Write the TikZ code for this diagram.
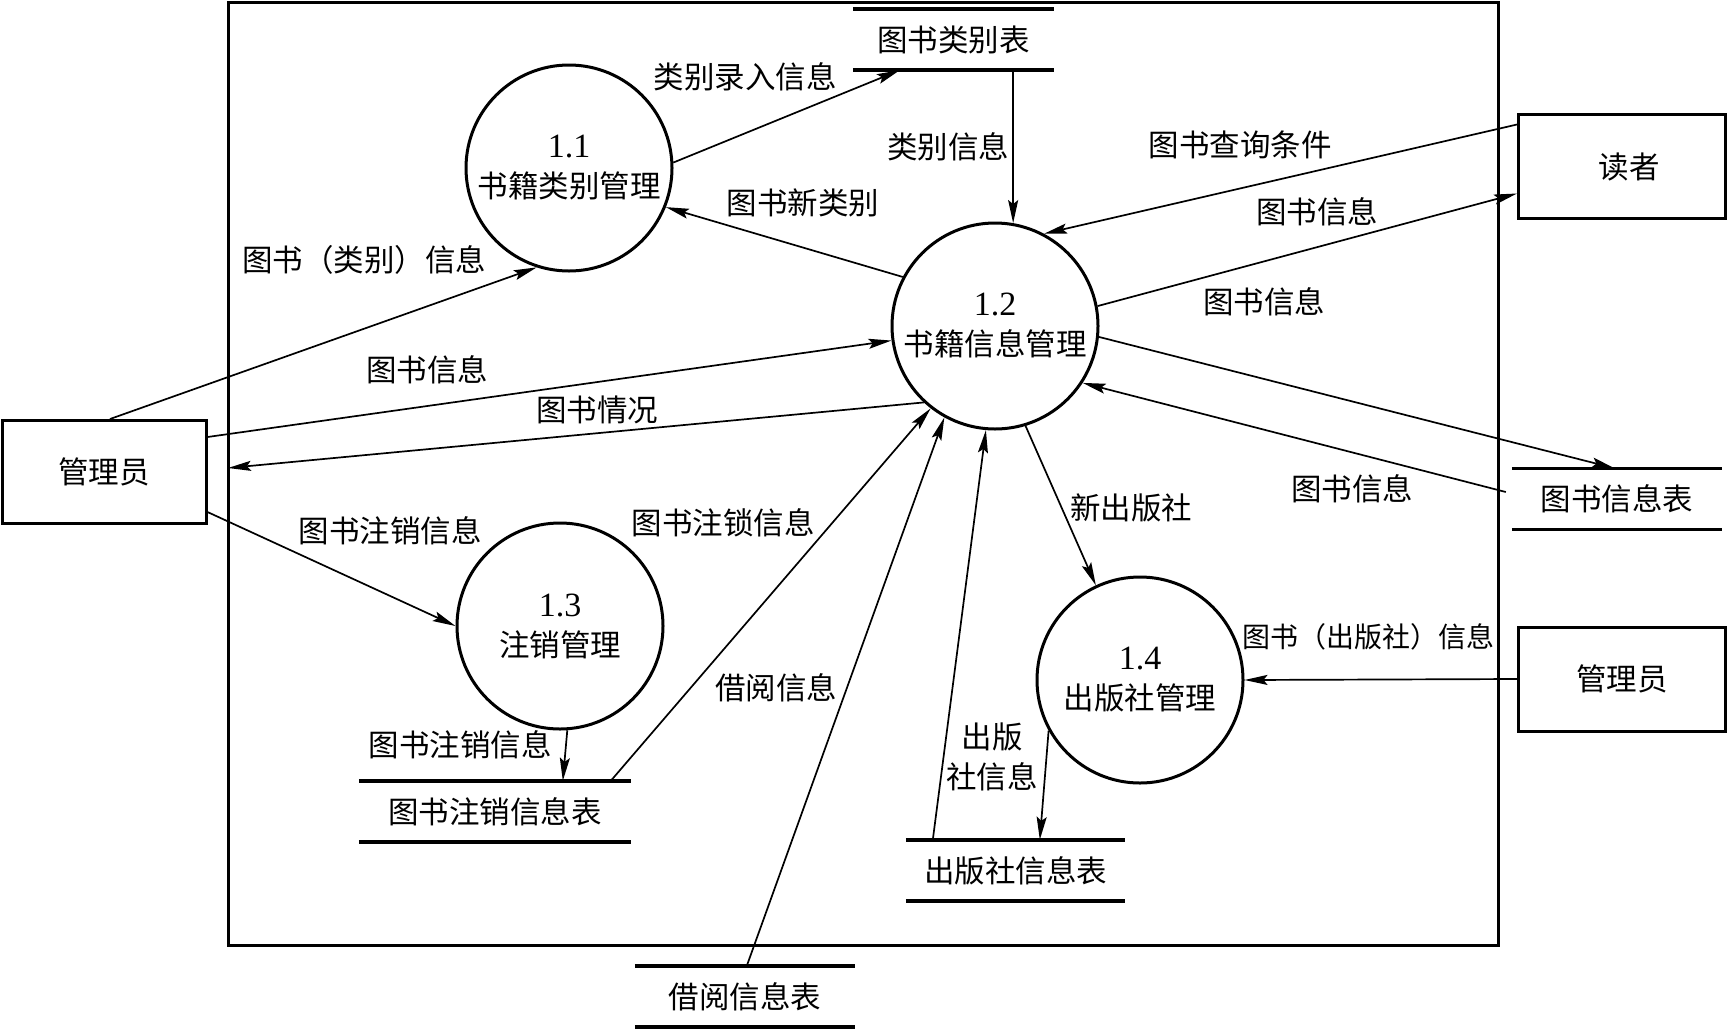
\documentclass[tikz,border=0pt]{standalone}
\usepackage{fontspec}
\setmainfont{Liberation Serif}
\newfontfamily\cjk{Noto Sans CJK SC}
\usetikzlibrary{arrows.meta,calc}
\begin{document}
\begin{tikzpicture}[x=1pt,y=-1pt,
  every node/.style={font=\fontsize{30.5}{40}\selectfont\cjk},
  procnode/.style={circle,draw,line width=3pt,minimum size=206pt,inner sep=0pt,align=center},
  entbox/.style={rectangle,draw,line width=3pt,inner sep=0pt},
  storebox/.style={inner sep=0pt,minimum height=61pt},
  storeline/.style={line width=3.5pt},
  flowarrow/.style={line width=1.7pt,-{Stealth[length=23pt,width=10pt,inset=4pt]}},
  flowlabel/.style={inner sep=0pt}]
\useasboundingbox (0,0) rectangle (1728,1029);
% system boundary
\draw[line width=3pt] (228,2) rectangle (1498,945);
\coordinate (bl) at (228,468);
% processes
\node[procnode] (p1) at (569,168) {{\fontsize{34}{40}\selectfont\rmfamily 1.1}\\书籍类别管理};
\node[procnode] (p2) at (995,326) {{\fontsize{34}{40}\selectfont\rmfamily 1.2}\\书籍信息管理};
\node[procnode] (p3) at (560,626) {{\fontsize{34}{40}\selectfont\rmfamily 1.3}\\注销管理};
\node[procnode] (p4) at (1140,680) {{\fontsize{34}{40}\selectfont\rmfamily 1.4}\\出版社管理};
% external entities
\node[entbox,minimum width=204pt,minimum height=103pt] (mL) at (104,472) {管理员};
\node[entbox,minimum width=207pt,minimum height=104pt,text depth=0pt] (rd) at (1622,166) {\hspace*{14pt}读者};
\node[entbox,minimum width=207pt,minimum height=104pt] (mR) at (1622,679) {管理员};
% data stores
\node[storebox,minimum width=201pt] (s1) at (953.5,39.5) {图书类别表};
\node[storebox,minimum width=272pt] (s2) at (495,811.5) {图书注销信息表};
\node[storebox,minimum width=219pt] (s3) at (1015.5,870.5) {出版社信息表};
\node[storebox,minimum width=210pt] (s4) at (1617,499) {图书信息表};
\node[storebox,minimum width=220pt] (s5) at (745,996.5) {借阅信息表};
\foreach \s in {s1,s2,s3,s4,s5}{
  \draw[storeline] (\s.north west) -- (\s.north east) (\s.south west) -- (\s.south east);
}
% flows
\draw[flowarrow] ([xshift=6pt]mL.north) -- (p1.252);
\draw[flowarrow] (p1.3) -- ([xshift=47pt]s1.south west);
\draw[flowarrow] (p2.80 |- s1.south) -- (p2.80);
\draw[flowarrow] (p2.152) -- (p1.338);
\draw[flowarrow] ([yshift=-12pt]rd.north west) -- (p2.62);
\draw[flowarrow] (p2.11) -- ([yshift=26pt]rd.south west);
\draw[flowarrow] ([yshift=-18pt]mL.north east) -- (p2.188);
\draw[flowarrow] (p2.227) -- (bl);
\draw[flowarrow] ([yshift=13pt]mL.south east) -- (p3.180);
\draw[flowarrow] (p3.274) -- ([xshift=204pt]s2.north west);
\draw[flowarrow] ([xshift=252pt]s2.north west) -- (p2.232);
\draw[flowarrow] ([xshift=112pt]s5.north west) -- (p2.241);
\draw[flowarrow] ([xshift=27pt]s3.north west) -- (p2.265);
\draw[flowarrow] (p2.287) -- (p4.115);
\draw[flowarrow] (p2.354) -- ([xshift=103pt]s4.north west);
\draw[flowarrow] ([xshift=-6pt,yshift=7pt]s4.west) -- (p2.327);
\draw[flowarrow] (mR.west) -- (p4.east);
\draw[flowarrow] (p4.209) -- ([xshift=134pt]s3.north west);
% labels
\node[flowlabel] (l1) at (745,77) {类别录入信息};
\node[flowlabel] (l2) at (803,203) {图书新类别};
\node[flowlabel] (l3) at (364,260) {图书（类别）信息};
\node[flowlabel] (l4) at (427,370) {图书信息};
\node[flowlabel] (l5) at (597,410) {图书情况};
\node[flowlabel] (l6) at (948,147) {类别信息};
\node[flowlabel] (l7) at (1240,145) {图书查询条件};
\node[flowlabel] (l8) at (1317,212) {图书信息};
\node[flowlabel] (l9) at (1264,302) {图书信息};
\node[flowlabel] (l10) at (390,531) {图书注销信息};
\node[flowlabel] (l11) at (723,523) {图书注锁信息};
\node[flowlabel] (l12) at (776,688) {借阅信息};
\node[flowlabel] (l13) at (460,745) {图书注销信息};
\node[flowlabel] (l14) at (1131,508) {新出版社};
\node[flowlabel] (l15) at (1352,489) {图书信息};
\node[flowlabel,font=\fontsize{28}{40}\selectfont\cjk] (l16) at (1368,637) {图书（出版社）信息};
\node[flowlabel,align=center] (l17) at (992,757) {出版\\社信息};
\end{tikzpicture}
\end{document}
